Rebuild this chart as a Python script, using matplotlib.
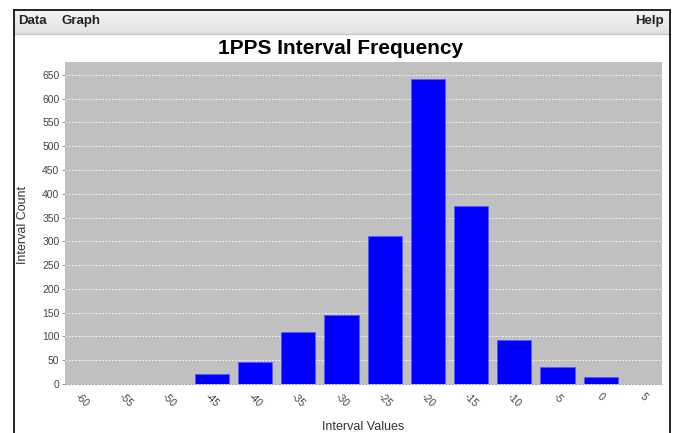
import matplotlib
matplotlib.use("Agg")
import matplotlib.pyplot as plt
from matplotlib.lines import Line2D
import numpy as np

categories = ['-60', '-55', '-50', '-45', '-40', '-35', '-30', '-25', '-20',
              '-15', '-10', '-5', '0', '5']
counts = [0, 0, 1, 20, 46, 110, 146, 312, 642, 375, 92, 35, 14, 0]
y_ticks = list(range(0, 651, 50))

plt.rcParams['font.family'] = ['Liberation Sans', 'DejaVu Sans']

W, H = 675, 433
fig = plt.figure(figsize=(W / 100, H / 100), dpi=100)
fig.patch.set_facecolor('white')

def fx(px):
    return px / W

def fy(py):
    return 1 - py / H

# window frame
grad = np.linspace(0, 1, 50).reshape(-1, 1)
bar_ax = fig.add_axes([fx(14), fy(34), fx(670) - fx(14), fy(10) - fy(34)])
bar_ax.imshow(grad, aspect='auto', cmap=matplotlib.colors.LinearSegmentedColormap.from_list(
    'm', ['#f4f4f4', '#e2e2e2']), extent=[0, 1, 0, 1])
bar_ax.set_axis_off()
fig.add_artist(Line2D([fx(14), fx(670)], [fy(34), fy(34)], color='#c8c8c8', lw=1))
fig.add_artist(Line2D([fx(14), fx(670)], [fy(10), fy(10)], color='black', lw=1.2))
fig.add_artist(Line2D([fx(14), fx(14)], [fy(10), 0], color='black', lw=1.2))
fig.add_artist(Line2D([fx(670), fx(670)], [fy(10), 0], color='black', lw=1.2))

fig.text(fx(18), fy(21), 'Data', fontsize=9.5, fontweight='bold', va='center', ha='left', color='#222222')
fig.text(fx(62), fy(21), 'Graph', fontsize=9.5, fontweight='bold', va='center', ha='left', color='#222222')
fig.text(fx(664), fy(21), 'Help', fontsize=9.5, fontweight='bold', va='center', ha='right', color='#222222')

fig.text(fx(341), fy(48), '1PPS Interval Frequency', fontsize=15, fontweight='bold',
         ha='center', va='center', color='black')

# plot area
ax = fig.add_axes([fx(65), fy(384), fx(662) - fx(65), fy(62) - fy(384)])
ax.set_facecolor('#c0c0c0')
x = np.arange(len(categories))
ax.bar(x, counts, width=0.79, color='#0000ff', edgecolor='#5a5aff', linewidth=0.6, zorder=3)
ax.set_xlim(-0.40, 13.42)
ax.set_ylim(0, 677)
ax.set_yticks(y_ticks)
ax.set_yticklabels([str(v) for v in y_ticks], fontsize=7.5, color='#444444')
ax.set_xticks(x)
ax.set_xticklabels(categories, rotation=-45, ha='center', va='top', fontsize=7.5, color='#444444')
ax.tick_params(axis='x', length=0, pad=5)
ax.tick_params(axis='y', length=2, width=0.6, color='#888888', pad=2)
ax.yaxis.grid(True, color='white', linestyle=(0, (2, 2)), linewidth=0.6, zorder=1)
ax.set_axisbelow(True)
for s in ['top', 'right', 'left']:
    ax.spines[s].set_visible(False)
ax.spines['bottom'].set_color('#999999')
ax.spines['bottom'].set_linewidth(0.6)
ax.spines['bottom'].set_linestyle((0, (2, 2)))

fig.text(fx(23), fy(225), 'Interval Count', fontsize=9, color='#333333',
         ha='center', va='center', rotation=90)
fig.text(fx(363), fy(427), 'Interval Values', fontsize=9, color='#333333', ha='center', va='center')

fig.savefig('out.png', dpi=100, facecolor='white')
